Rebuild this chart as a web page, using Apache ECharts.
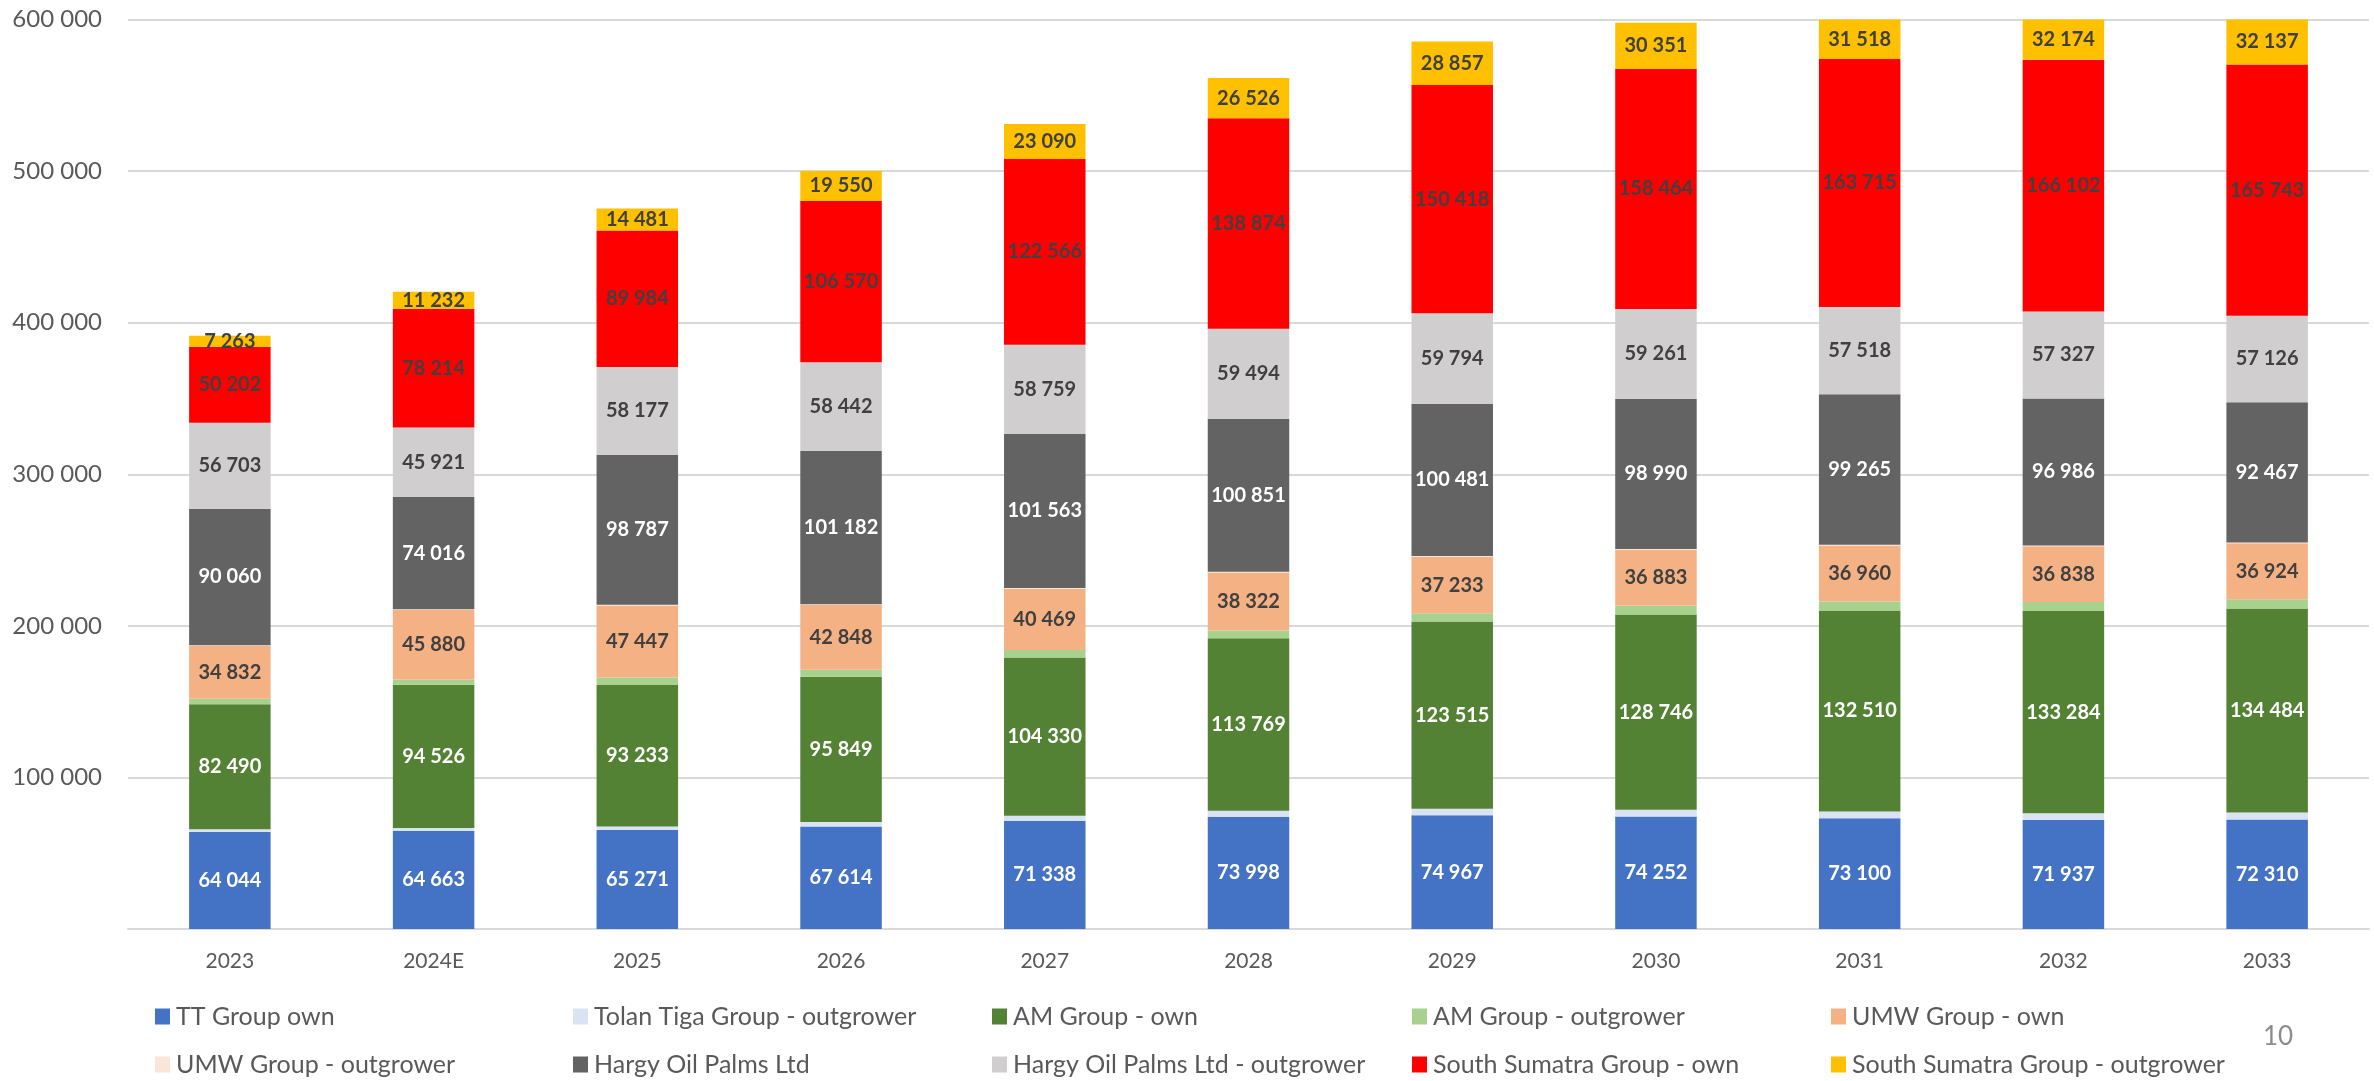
<!DOCTYPE html>
<html>
<head>
<meta charset="utf-8">
<script src="https://cdn.jsdelivr.net/npm/echarts@6/dist/echarts.min.js"></script>
<style>html,body{margin:0;padding:0;background:#fff;}#c{width:2374px;height:1081px;}</style>
</head>
<body>
<div id="c"></div>
<script>
const categories = ['2023','2024E','2025','2026','2027','2028','2029','2030','2031','2032','2033'];
const ttOwn        = [64044, 64663, 65271, 67614, 71338, 73998, 74967, 74252, 73100, 71937, 72310];
const tolanOut     = [1800, 1900, 2400, 2900, 3400, 4000, 4300, 4400, 4440, 4500, 4600];
const amOwn        = [82490, 94526, 93233, 95849, 104330, 113769, 123515, 128746, 132510, 133284, 134484];
const amOut        = [3500, 3500, 5000, 4600, 5000, 5100, 5500, 5950, 6000, 6000, 6200];
const umwOwn       = [34832, 45880, 47447, 42848, 40469, 38322, 37233, 36883, 36960, 36838, 36924];
const umwOut       = [500, 500, 500, 500, 500, 500, 500, 500, 500, 500, 500];
const hargy        = [90060, 74016, 98787, 101182, 101563, 100851, 100481, 98990, 99265, 96986, 92467];
const hargyOut     = [56703, 45921, 58177, 58442, 58759, 59494, 59794, 59261, 57518, 57327, 57126];
const ssOwn        = [50202, 78214, 89984, 106570, 122566, 138874, 150418, 158464, 163715, 166102, 165743];
const ssOut        = [7263, 11232, 14481, 19550, 23090, 26526, 28857, 30351, 31518, 32174, 32137];
const yTicks = [0, 100000, 200000, 300000, 400000, 500000, 600000];

const fmt = v => String(v).replace(/\B(?=(\d{3})+(?!\d))/g, ' ');
const FONT = 'Lato, "Open Sans", sans-serif';

const seriesDefs = [
  {name:'TT Group own', data:ttOwn, color:'#4472C4', label:'#FFFFFF'},
  {name:'Tolan Tiga Group - outgrower', data:tolanOut, color:'#DAE3F3', label:null},
  {name:'AM Group - own', data:amOwn, color:'#548235', label:'#FFFFFF'},
  {name:'AM Group - outgrower', data:amOut, color:'#A9D18E', label:null},
  {name:'UMW Group - own', data:umwOwn, color:'#F4B183', label:'#404040'},
  {name:'UMW Group - outgrower', data:umwOut, color:'#FBE5D6', label:null},
  {name:'Hargy Oil Palms Ltd', data:hargy, color:'#636363', label:'#FFFFFF'},
  {name:'Hargy Oil Palms Ltd - outgrower', data:hargyOut, color:'#D0CECE', label:'#404040'},
  {name:'South Sumatra Group - own', data:ssOwn, color:'#FF0000', label:'#404040'},
  {name:'South Sumatra Group - outgrower', data:ssOut, color:'#FFC000', label:'#404040'}
];

const series = seriesDefs.map(s => ({
  name: s.name,
  type: 'bar',
  stack: 'total',
  barWidth: '40%',
  data: s.data,
  clip: true,
  itemStyle: {color: s.color},
  label: s.label ? {
    show: true, position: 'inside', color: s.label,
    fontFamily: FONT, fontWeight: 'bold', fontSize: 20,
    formatter: p => fmt(p.value)
  } : {show:false},
  emphasis: {disabled: true}
}));

const legendCols = [
  ['TT Group own','UMW Group - outgrower'],
  ['Tolan Tiga Group - outgrower','Hargy Oil Palms Ltd'],
  ['AM Group - own','Hargy Oil Palms Ltd - outgrower'],
  ['AM Group - outgrower','South Sumatra Group - own'],
  ['UMW Group - own','South Sumatra Group - outgrower']
];
const legendLefts = [155, 573, 992, 1412, 1831];
const legends = legendCols.map((d, i) => ({
  data: d,
  orient: 'vertical',
  left: legendLefts[i],
  top: 1004,
  padding: 0,
  itemWidth: 15,
  itemHeight: 16,
  itemGap: 23,
  icon: 'rect',
  selectedMode: false,
  textStyle: {fontFamily: FONT, fontSize: 25, color: '#595959', lineHeight: 25, padding:[0,0,0,1]}
}));

const chart = echarts.init(document.getElementById('c'));
chart.setOption({
  animation: false,
  backgroundColor: '#FFFFFF',
  grid: {left: 128, right: 5, top: 19.5, bottom: 152, containLabel: false},
  legend: legends,
  xAxis: {
    type: 'category',
    data: categories,
    axisLine: {lineStyle: {color: '#D9D9D9', width: 2}},
    axisTick: {show: false},
    axisLabel: {fontFamily: FONT, fontSize: 21, color: '#595959', margin: 22}
  },
  yAxis: {
    type: 'value',
    min: yTicks[0],
    max: yTicks[yTicks.length - 1],
    interval: 100000,
    axisLine: {show: false},
    axisTick: {show: false},
    splitLine: {lineStyle: {color: '#D9D9D9', width: 2}},
    axisLabel: {fontFamily: FONT, fontSize: 24, color: '#595959', margin: 26,
      formatter: v => v === 0 ? '' : fmt(v)}
  },
  graphic: [{
    type: 'text', left: 2263, top: 1024,
    style: {text: '10', fontFamily: FONT, fontSize: 26, fill: '#8C8C8C'}
  }],
  series: series
});
</script>
</body>
</html>
